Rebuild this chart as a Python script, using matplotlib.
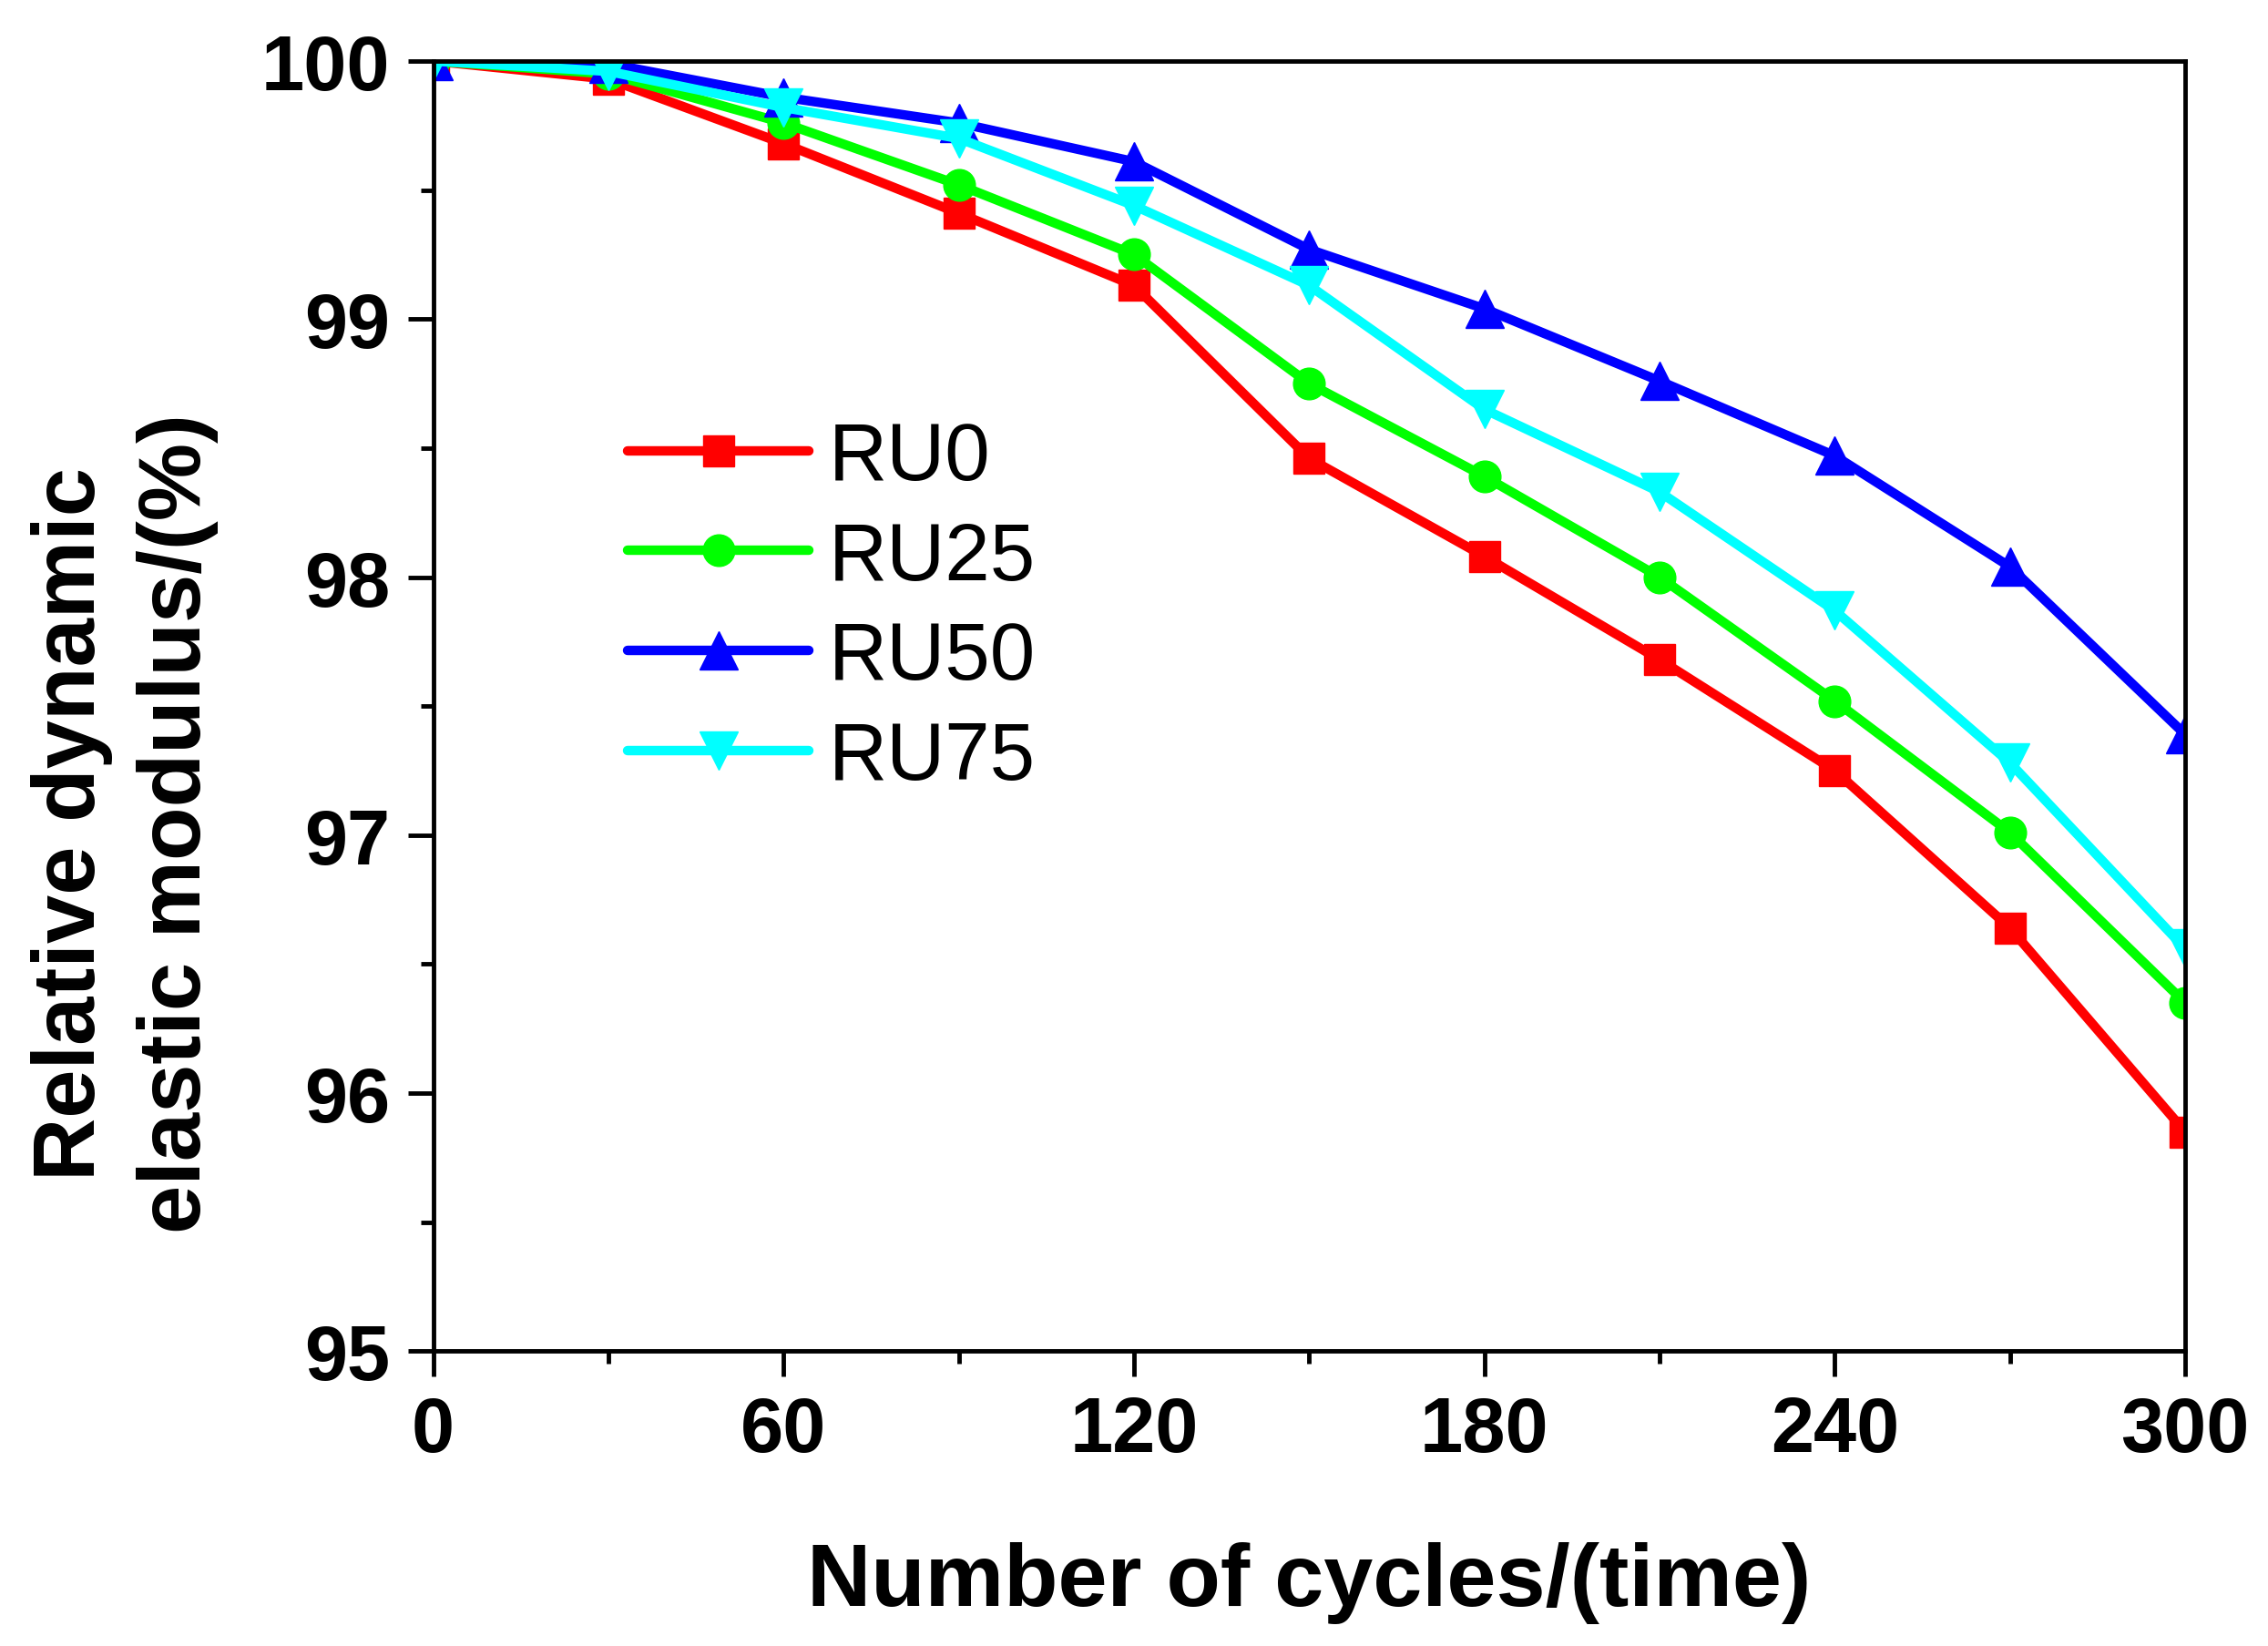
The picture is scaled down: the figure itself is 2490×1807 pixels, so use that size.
import matplotlib
matplotlib.use('Agg')
import matplotlib.pyplot as plt
from matplotlib.ticker import MultipleLocator

# values
cycles = [0, 30, 60, 90, 120, 150, 180, 210, 240, 270, 300]
ru0 = [100.0, 99.93, 99.68, 99.41, 99.13, 98.46, 98.08, 97.68, 97.25, 96.64, 95.85]
ru25 = [100.0, 99.95, 99.76, 99.52, 99.25, 98.75, 98.39, 98.00, 97.52, 97.01, 96.35]
ru50 = [100.0, 99.99, 99.86, 99.76, 99.61, 99.27, 99.04, 98.76, 98.47, 98.04, 97.39]
ru75 = [100.0, 99.96, 99.82, 99.70, 99.44, 99.13, 98.65, 98.33, 97.87, 97.28, 96.56]

labels = ['RU0', 'RU25', 'RU50', 'RU75']
colors = ['#ff0000', '#00ff00', '#0000ff', '#00ffff']
markers = ['s', 'o', '^', 'v']
msizes = [24, 25, 30, 30]

plt.rcParams['font.family'] = ['Liberation Sans', 'DejaVu Sans']

fig = plt.figure(figsize=(24.9, 18.08), dpi=100)
ax = fig.add_axes([0.191, 0.179, 0.7725, 0.7834])

for ys, lab, c, m, ms in zip([ru0, ru25, ru50, ru75], labels, colors, markers, msizes):
    ax.plot(cycles, ys, color=c, marker=m, markersize=ms, markeredgewidth=1,
            markeredgecolor=c, linewidth=7.5, solid_capstyle='round', label=lab)

ax.set_xlim(0, 300)
ax.set_ylim(95, 100)
ax.xaxis.set_major_locator(MultipleLocator(60))
ax.xaxis.set_minor_locator(MultipleLocator(30))
ax.yaxis.set_major_locator(MultipleLocator(1))
ax.yaxis.set_minor_locator(MultipleLocator(0.5))

for s in ax.spines.values():
    s.set_linewidth(3.5)
    s.set_color('black')

ax.tick_params(which='major', direction='out', length=20, width=3.5, pad=14, labelsize=61)
ax.tick_params(which='minor', direction='out', length=10, width=3.5)
ax.tick_params(which='both', top=False, right=False)
for t in ax.get_xticklabels() + ax.get_yticklabels():
    t.set_fontweight('bold')

ax.set_xlabel('Number of cycles/(time)', fontsize=70, fontweight='bold')
ax.xaxis.set_label_coords(0.5, -0.147)
ax.xaxis.label.set_va('top')

fig.text(0.055, 0.5, 'Relative dynamic\nelastic modulus/(%)', rotation=90,
         ha='center', va='center', multialignment='center', fontsize=69,
         fontweight='bold', linespacing=1.36)

ax.legend(loc='upper left', bbox_to_anchor=(0.111, 0.722), frameon=False,
          fontsize=64, borderpad=0, borderaxespad=0, handlelength=2.24,
          handletextpad=0.24, labelspacing=0.29)

fig.savefig('out.png', dpi=100, facecolor='white')
